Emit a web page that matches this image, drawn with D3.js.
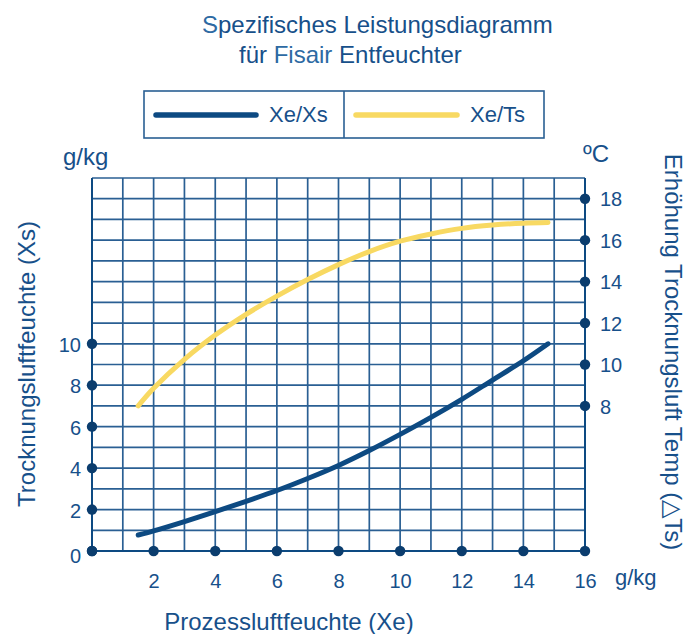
<!DOCTYPE html>
<html>
<head>
<meta charset="utf-8">
<script src="https://cdn.jsdelivr.net/npm/d3@7"></script>
<style>
  html, body { margin: 0; padding: 0; background: #ffffff; }
  svg { display: block; font-family: "Liberation Sans", Arial, Helvetica, sans-serif; }
</style>
</head>
<body>
<div id="chart"></div>
<script>
// ---- data ----
const xValues   = [1.5, 2, 3, 4, 5, 6, 7, 8, 9, 10, 11, 12, 13, 14, 14.8];          // Xe, g/kg
const xsValues  = [0.77, 0.97, 1.42, 1.9, 2.4, 2.92, 3.5, 4.13, 4.85, 5.63, 6.45, 7.32, 8.25, 9.18, 10.0];   // Xs, g/kg
const tsValues  = [8.0, 8.85, 10.25, 11.42, 12.42, 13.3, 14.1, 14.82, 15.45, 15.95, 16.3, 16.57, 16.73, 16.82, 16.85]; // ΔTs, °C
const xTicks     = [2, 4, 6, 8, 10, 12, 14, 16];
const xDots      = [0, 2, 4, 6, 8, 10, 12, 14, 16];
const leftTicks  = [0, 2, 4, 6, 8, 10];
const rightTicks = [8, 10, 12, 14, 16, 18];
const seriesNames = ["Xe/Xs", "Xe/Ts"];

const W = 699, H = 634;
const navy = "#0d4a82", gridCol = "#2a5f93", dotCol = "#0b3d6e", yellow = "#f8d962", textCol = "#17508a";

const svg = d3.select("#chart").append("svg").attr("width", W).attr("height", H);

const x  = d3.scaleLinear().domain([0, 16]).range([92, 585]);
const yL = d3.scaleLinear().domain([0, 18]).range([551, 178]);
const yR = d3.scaleLinear().domain([1, 19]).range([551, 178]);

// ---- title ----
const t1 = svg.append("text").attr("x", 202).attr("y", 33).attr("font-size", 24).attr("fill", textCol);
t1.append("tspan").attr("fill", "#2d6aa3").text("S");
t1.append("tspan").text("pezifisches Leistungsdiagramm");
const t2 = svg.append("text").attr("x", 239).attr("y", 63).attr("font-size", 24).attr("fill", textCol);
t2.append("tspan").text("für ");
t2.append("tspan").attr("fill", "#2d6aa3").text("Fisair");
t2.append("tspan").text(" Entfeuchter");

// ---- legend ----
const lg = svg.append("g");
lg.append("rect").attr("x", 144).attr("y", 91).attr("width", 400).attr("height", 47)
  .attr("fill", "none").attr("stroke", gridCol).attr("stroke-width", 1.6);
lg.append("line").attr("x1", 344).attr("x2", 344).attr("y1", 91).attr("y2", 138)
  .attr("stroke", gridCol).attr("stroke-width", 1.6);
const legendItems = [
  {name: seriesNames[0], color: navy, x0: 156, x1: 256, tx: 269},
  {name: seriesNames[1], color: yellow, x0: 356, x1: 457, tx: 470}
];
legendItems.forEach(d => {
  lg.append("line").attr("x1", d.x0).attr("x2", d.x1).attr("y1", 115).attr("y2", 115)
    .attr("stroke", d.color).attr("stroke-width", 5.5).attr("stroke-linecap", "round");
  lg.append("text").attr("x", d.tx).attr("y", 121.5).attr("font-size", 22).attr("fill", textCol).text(d.name);
});

// ---- grid ----
const grid = svg.append("g");
grid.selectAll("line.v").data(d3.range(0, 17)).join("line")
  .attr("x1", d => x(d)).attr("x2", d => x(d)).attr("y1", yL(18)).attr("y2", yL(0))
  .attr("stroke", gridCol).attr("stroke-width", 1.7);
grid.selectAll("line.h").data(d3.range(0, 19)).join("line")
  .attr("x1", x(0)).attr("x2", x(16)).attr("y1", d => yL(d)).attr("y2", d => yL(d))
  .attr("stroke", gridCol).attr("stroke-width", 1.7);
// frame axes
svg.append("line").attr("x1", x(0)).attr("x2", x(16)).attr("y1", yL(0)).attr("y2", yL(0)).attr("stroke", navy).attr("stroke-width", 2);
svg.append("line").attr("x1", x(0)).attr("x2", x(0)).attr("y1", yL(0)).attr("y2", yL(18)).attr("stroke", navy).attr("stroke-width", 2);
svg.append("line").attr("x1", x(16)).attr("x2", x(16)).attr("y1", yL(0)).attr("y2", yL(18)).attr("stroke", navy).attr("stroke-width", 2);

// ---- curves ----
const pts = xValues.map((v, i) => ({x: v, xs: xsValues[i], ts: tsValues[i]}));
svg.append("path").datum(pts)
  .attr("d", d3.line().x(d => x(d.x)).y(d => yR(d.ts)).curve(d3.curveCatmullRom.alpha(0.5)))
  .attr("fill", "none").attr("stroke", yellow).attr("stroke-width", 5).attr("stroke-linecap", "round");
svg.append("path").datum(pts)
  .attr("d", d3.line().x(d => x(d.x)).y(d => yL(d.xs)).curve(d3.curveCatmullRom.alpha(0.5)))
  .attr("fill", "none").attr("stroke", navy).attr("stroke-width", 5).attr("stroke-linecap", "round");

// ---- dots ----
const dots = svg.append("g").attr("fill", dotCol);
dots.selectAll("circle.b").data(xDots).join("circle").attr("cx", d => x(d)).attr("cy", yL(0)).attr("r", 5.2);
dots.selectAll("circle.l").data(leftTicks).join("circle").attr("cx", x(0)).attr("cy", d => yL(d)).attr("r", 5.2);
dots.selectAll("circle.r").data(rightTicks).join("circle").attr("cx", x(16)).attr("cy", d => yR(d)).attr("r", 5.2);

// ---- axes (labels only) ----
function styleAxis(g) {
  g.select(".domain").remove();
  g.selectAll(".tick line").remove();
  g.selectAll("text").attr("fill", textCol).attr("font-size", 20)
    .attr("font-family", "'Liberation Sans', Arial, sans-serif");
}
svg.append("g").attr("transform", `translate(0,${yL(0)})`)
  .call(d3.axisBottom(x).tickValues(xTicks).tickSize(0).tickPadding(23).tickFormat(d3.format("d")))
  .call(styleAxis);
svg.append("g").attr("transform", `translate(${x(0)},0)`)
  .call(d3.axisLeft(yL).tickValues(leftTicks).tickSize(0).tickPadding(11).tickFormat(d3.format("d")))
  .call(styleAxis)
  .selectAll("text").attr("dy", d => d === 0 ? "0.55em" : "0.38em");
svg.append("g").attr("transform", `translate(${x(16)},0)`)
  .call(d3.axisRight(yR).tickValues(rightTicks).tickSize(0).tickPadding(15).tickFormat(d3.format("d")))
  .call(styleAxis)
  .selectAll("text").attr("dy", "0.36em");

// ---- unit labels & axis titles ----
svg.append("text").attr("x", 63).attr("y", 165).attr("font-size", 24).attr("fill", textCol).text("g/kg");
svg.append("text").attr("x", 583).attr("y", 162).attr("font-size", 24).attr("fill", textCol).text("ºC");
svg.append("text").attr("x", 615).attr("y", 585).attr("font-size", 22).attr("fill", textCol).text("g/kg");
svg.append("text").attr("x", 289).attr("y", 630).attr("text-anchor", "middle").attr("font-size", 24)
  .attr("fill", textCol).text("Prozessluftfeuchte (Xe)");
svg.append("text").attr("transform", "translate(35,364) rotate(-90)").attr("text-anchor", "middle")
  .attr("font-size", 24).attr("fill", textCol).text("Trocknungsluftfeuchte (Xs)");
svg.append("text").attr("transform", "translate(665,352) rotate(90)").attr("text-anchor", "middle")
  .attr("font-size", 24).attr("fill", textCol).text("Erhöhung Trocknungsluft Temp (△Ts)");
</script>
</body>
</html>
